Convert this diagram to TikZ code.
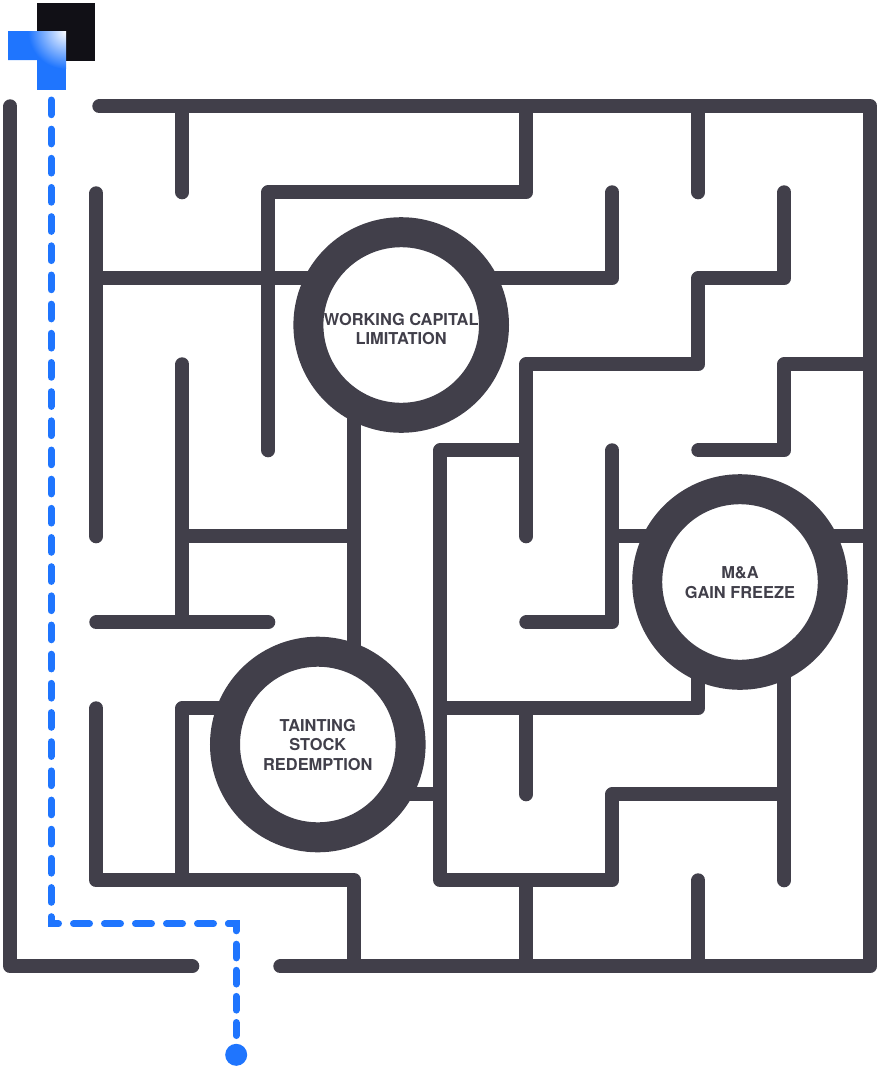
\documentclass[tikz,border=0pt]{standalone}
\usepackage{fontspec}
\setmainfont{TeX Gyre Heros}
\definecolor{wall}{HTML}{413F4A}
\definecolor{route}{HTML}{1F75FE}
\definecolor{logoblack}{HTML}{111016}
\tikzset{
 wallline/.style={draw=wall,line width=14pt,line cap=round,line join=round},
 ring/.style={circle,draw=wall,fill=white,line width=30pt,minimum size=185.6pt,inner sep=0pt},
 ringtext/.style={align=center,text=wall,inner sep=0pt,font=\bfseries\fontsize{16.4}{19.3}\selectfont},
 routeline/.style={draw=route,line width=7pt,line cap=round,line join=miter},
}
\begin{document}
\begin{tikzpicture}[x=1pt,y=-1pt]
\useasboundingbox (0,0) rectangle (880,1071);
\begin{scope}[shift={(0.3,0.3)}]
% outer walls
\draw[wallline] (10,106) -- (10,966) -- (192,966);
\draw[wallline] (99,106) -- (870,106) -- (870,966) -- (280,966);
% upper
\draw[wallline] (182,107) -- (182,192);
\draw[wallline] (698,107) -- (698,192);
\draw[wallline] (526,107) -- (526,192) -- (268,192) -- (268,450);
\draw[wallline] (96,193) -- (96,536);
\draw[wallline] (97,278) -- (330,278);
\draw[wallline] (470,278) -- (612,278) -- (612,192);
\draw[wallline] (784,192) -- (784,278) -- (698,278) -- (698,364) -- (526,364) -- (526,536);
\draw[wallline] (869,364) -- (784,364) -- (784,450) -- (698,450);
\draw[wallline] (525,450) -- (440,450) -- (440,880) -- (612,880) -- (612,794) -- (783,794);
% left
\draw[wallline] (182,364) -- (182,621);
\draw[wallline] (96,622) -- (268,622);
\draw[wallline] (183,536) -- (353,536);
\draw[wallline] (354,400) -- (354,680);
% right
\draw[wallline] (612,450) -- (612,622) -- (526,622);
\draw[wallline] (613,536) -- (680,536);
\draw[wallline] (800,536) -- (869,536);
\draw[wallline] (441,708) -- (698,708) -- (698,650);
\draw[wallline] (784,650) -- (784,880);
\draw[wallline] (526,709) -- (526,794);
% bottom
\draw[wallline] (96,708) -- (96,880) -- (354,880) -- (354,965);
\draw[wallline] (182,879) -- (182,708) -- (250,708);
\draw[wallline] (380,794) -- (439,794);
\draw[wallline] (526,881) -- (526,965);
\draw[wallline] (698,880) -- (698,965);
\end{scope}
% rings
\node[ring] (wc) at (401.2,325) {};
\node[ringtext] (wctext) at (401.2,329) {WORKING CAPITAL\\LIMITATION};
\node[ring] (ma) at (740,582) {};
\node[ringtext] (matext) at (740,582.5) {M\&A\\GAIN FREEZE};
\node[ring] (ts) at (317.8,744.5) {};
\node[ringtext] (tstext) at (317.8,745) {TAINTING\\STOCK\\REDEMPTION};
% logo
\fill[logoblack] (37,3) rectangle (95,61);
\begin{scope}
\clip (8,31) -- (66,31) -- (66,90) -- (37,90) -- (37,60) -- (8,60) -- cycle;
\fill[route] (8,31) rectangle (66,90);
\shade[inner color=white,outer color=route] (66,31) circle (38);
\end{scope}
% route
\coordinate (r0) at (51,100);
\coordinate (r1a) at (51,916.7);
\coordinate (r1) at (51,923.7);
\coordinate (r1b) at (58.5,923.7);
\coordinate (r1c) at (73.5,923.7);
\coordinate (r2a) at (228.5,923.7);
\coordinate (r2) at (236,923.7);
\coordinate (r2b) at (236,930.8);
\coordinate (r2c) at (236,944.2);
\coordinate (r3) at (236,1035.5);
\node[circle,fill=route,minimum size=22pt,inner sep=0pt] (goal) at (236.2,1054.8) {};
\draw[routeline,dash pattern=on 14.7pt off 14.47pt] (r0) -- (r1a);
\draw[routeline] (r1a) -- (r1) -- (r1b);
\draw[routeline,dash pattern=on 16pt off 15pt] (r1c) -- (r2a);
\draw[routeline] (r2a) -- (r2) -- (r2b);
\draw[routeline,dash pattern=on 13.7pt off 12.4pt] (r2c) -- (r3);
\end{tikzpicture}
\end{document}
